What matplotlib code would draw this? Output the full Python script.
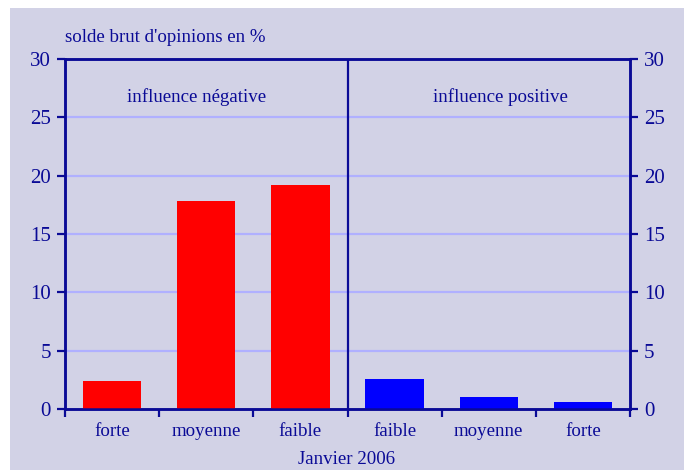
import matplotlib

matplotlib.use("Agg")
import matplotlib.pyplot as plt
from matplotlib.patches import Rectangle

# Data (solde brut d'opinions en %)
categories = ["forte", "moyenne", "faible", "faible", "moyenne", "forte"]
negative = [2.4, 17.8, 19.2]
positive = [2.6, 1.0, 0.6]
yticks = [0, 5, 10, 15, 20, 25, 30]

NAVY = "#0a0a96"
BG = "#d2d2e6"
GRID = "#b0b0ff"

plt.rcParams["font.family"] = ["Liberation Serif", "DejaVu Serif"]

fig = plt.figure(figsize=(6.84, 4.70), dpi=100, facecolor="white")
fig.patches.append(Rectangle((10 / 684, 0), 1, (470 - 8) / 470, transform=fig.transFigure,
                             facecolor=BG, edgecolor="none", zorder=-10))

ax = fig.add_axes([65 / 684, (470 - 409) / 470, (630 - 65) / 684, (409 - 59) / 470])
ax.set_facecolor(BG)

n = len(categories)
xs = [i + 0.5 for i in range(n)]
colors = ["#ff0000"] * len(negative) + ["#0000ff"] * len(positive)
ax.bar(xs, negative + positive, width=0.62, color=colors, zorder=3)

ax.set_xlim(0, n)
ax.set_ylim(0, 30)
for y in yticks[1:-1]:
    ax.axhline(y, color=GRID, lw=1.6, zorder=1)
ax.plot([3, 3], [0, 30], color=NAVY, lw=1.6, zorder=4)

for side in ["left", "right", "top", "bottom"]:
    ax.spines[side].set_color(NAVY)
    ax.spines[side].set_linewidth(1.8)

ax.set_yticks(yticks)
ax.tick_params(axis="y", colors=NAVY, labelcolor=NAVY, labelsize=15, length=6, width=1.6,
               direction="out", pad=4)
ax.set_xticks(xs)
ax.set_xticklabels(categories)
ax.set_xticks(range(n + 1), minor=True)
ax.tick_params(axis="x", which="major", length=0, labelsize=13.6, labelcolor=NAVY, pad=10)
ax.tick_params(axis="x", which="minor", length=6, width=1.6, color=NAVY, direction="out")

ax2 = ax.twinx()
ax2.set_ylim(0, 30)
ax2.set_yticks(yticks)
ax2.tick_params(axis="y", colors=NAVY, labelcolor=NAVY, labelsize=15, length=6, width=1.6,
                direction="out", pad=4)
for side in ["left", "right", "top", "bottom"]:
    ax2.spines[side].set_color(NAVY)
    ax2.spines[side].set_linewidth(1.8)

ax.text(1.4, 26.7, "influence négative", ha="center", va="center", fontsize=13.6, color=NAVY)
ax.text(4.62, 26.7, "influence positive", ha="center", va="center", fontsize=13.6, color=NAVY)
fig.text(65 / 684, 1 - 37 / 470, "solde brut d'opinions en %", ha="left", va="center",
         fontsize=13.6, color=NAVY)
fig.text(347 / 684, 1 - 459 / 470, "Janvier 2006", ha="center", va="center",
         fontsize=13.6, color=NAVY)

fig.savefig("out.png", dpi=100, facecolor=fig.get_facecolor())
